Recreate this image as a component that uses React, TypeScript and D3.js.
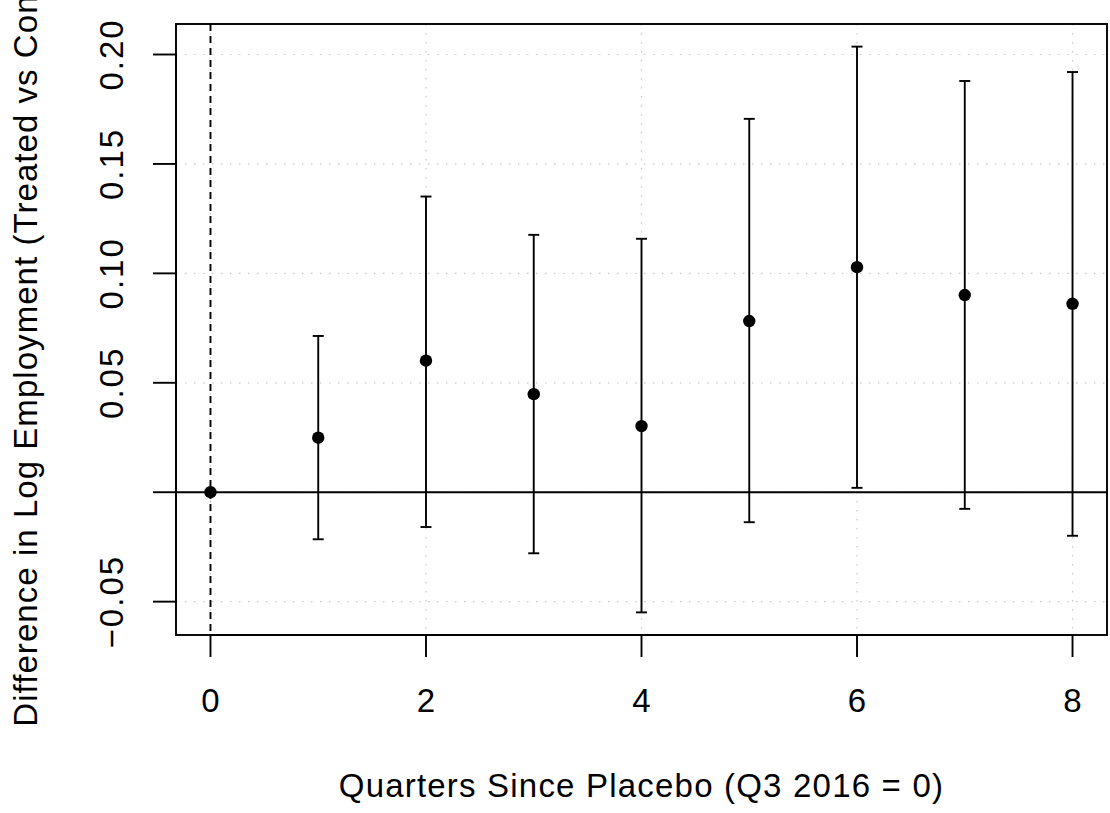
import React from "react";
import * as d3 from "d3";

const quarters = [0, 1, 2, 3, 4, 5, 6, 7, 8];
const estimates = [0, 0.0249, 0.0601, 0.0448, 0.0302, 0.0782, 0.1028, 0.0901, 0.0861];
const lowerCI = [0, -0.0215, -0.0159, -0.0279, -0.0549, -0.0137, 0.002, -0.0076, -0.0199];
const upperCI = [0, 0.0714, 0.1351, 0.1176, 0.1158, 0.1706, 0.2036, 0.1879, 0.192];
const xTicks = [0, 2, 4, 6, 8];
const yTicks = [-0.05, 0, 0.05, 0.1, 0.15, 0.2];
const yTickLabels = ["\u22120.05", "", "0.05", "0.10", "0.15", "0.20"];
const xTitle = "Quarters Since Placebo (Q3 2016 = 0)";
const yTitle = "Difference in Log Employment (Treated vs Control)";

const W = 1110;
const H = 813;
const L = 176, R = 1107, T = 24, B = 635;
const FONT = "'Liberation Sans', Arial, Helvetica, sans-serif";

function pad(ext: [number, number]): [number, number] {
  const d = (ext[1] - ext[0]) * 0.04;
  return [ext[0] - d, ext[1] + d];
}

export default function App() {
  const xDom = pad(d3.extent(quarters) as [number, number]);
  const yMin = d3.min(lowerCI) as number;
  const yMax = d3.max(upperCI) as number;
  const yDom = pad([yMin, yMax]);
  const x = d3.scaleLinear().domain(xDom).range([L, R]);
  const y = d3.scaleLinear().domain(yDom).range([B, T]);
  const sw = 1.9;
  const grid = "#c8c8c8";

  return (
    <svg width={W} height={H} style={{ position: "absolute", left: 0, top: 0, background: "#fff" }}>
      <rect x={0} y={0} width={W} height={H} fill="#fff" />
      {/* grid */}
      {xTicks.map((t) => (
        <line key={"gx" + t} x1={x(t)} x2={x(t)} y1={T} y2={B} stroke={grid} strokeWidth={1.2} strokeDasharray="1.5,7.5" />
      ))}
      {yTicks.map((t) => (
        <line key={"gy" + t} x1={L} x2={R} y1={y(t)} y2={y(t)} stroke={grid} strokeWidth={1.2} strokeDasharray="1.5,7.5" />
      ))}
      {/* reference lines */}
      <line x1={L} x2={R} y1={y(0)} y2={y(0)} stroke="#000" strokeWidth={sw} />
      <line x1={x(0)} x2={x(0)} y1={T} y2={B} stroke="#000" strokeWidth={sw} strokeDasharray="7,5" />
      {/* error bars */}
      {quarters.map((q, i) =>
        upperCI[i] !== lowerCI[i] ? (
          <g key={"e" + q} stroke="#000" strokeWidth={sw}>
            <line x1={x(q)} x2={x(q)} y1={y(lowerCI[i])} y2={y(upperCI[i])} />
            <line x1={x(q) - 5.5} x2={x(q) + 5.5} y1={y(lowerCI[i])} y2={y(lowerCI[i])} />
            <line x1={x(q) - 5.5} x2={x(q) + 5.5} y1={y(upperCI[i])} y2={y(upperCI[i])} />
          </g>
        ) : null
      )}
      {/* points */}
      {quarters.map((q, i) => (
        <circle key={"p" + q} cx={x(q)} cy={y(estimates[i])} r={6.2} fill="#000" />
      ))}
      {/* box */}
      <rect x={L} y={T} width={R - L} height={B - T} fill="none" stroke="#000" strokeWidth={sw} />
      {/* x axis */}
      <line x1={x(xTicks[0])} x2={x(xTicks[xTicks.length - 1])} y1={B} y2={B} stroke="#000" strokeWidth={sw} />
      {xTicks.map((t) => (
        <g key={"xt" + t}>
          <line x1={x(t)} x2={x(t)} y1={B} y2={B + 22} stroke="#000" strokeWidth={sw} />
          <text x={x(t)} y={712} textAnchor="middle" fontFamily={FONT} fontSize={33}>{t}</text>
        </g>
      ))}
      {/* y axis */}
      <line x1={L} x2={L} y1={y(yTicks[0])} y2={y(yTicks[yTicks.length - 1])} stroke="#000" strokeWidth={sw} />
      {yTicks.map((t, i) => (
        <g key={"yt" + t}>
          <line x1={L - 23} x2={L} y1={y(t)} y2={y(t)} stroke="#000" strokeWidth={sw} />
          <text transform={`translate(123,${y(t)}) rotate(-90)`} textAnchor="middle" fontFamily={FONT} fontSize={33} letterSpacing={2}>{yTickLabels[i]}</text>
        </g>
      ))}
      {/* titles */}
      <text x={(L + R) / 2} y={797} textAnchor="middle" fontFamily={FONT} fontSize={33} letterSpacing={1.2}>{xTitle}</text>
      <text transform={`translate(37,${(T + B) / 2}) rotate(-90)`} textAnchor="middle" fontFamily={FONT} fontSize={33} letterSpacing={1.05}>{yTitle}</text>
    </svg>
  );
}
